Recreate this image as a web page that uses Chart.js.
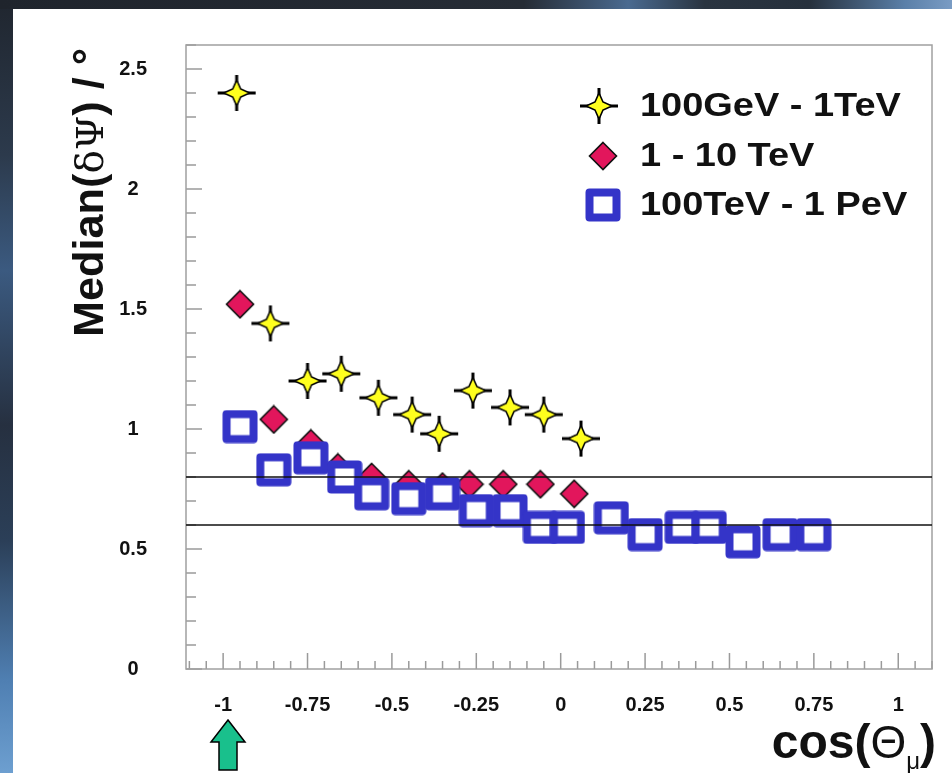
<!DOCTYPE html>
<html>
<head>
<meta charset="utf-8">
<script src="https://cdn.jsdelivr.net/npm/chart.js@4.4.1/dist/chart.umd.min.js"></script>
<style>
  html, body { margin: 0; padding: 0; width: 952px; height: 773px; overflow: hidden; }
  body { background: linear-gradient(180deg, #20262f 0%, #2c3a4c 20%, #3b5a80 35%, #263040 55%, #2b3f58 70%, #4f7fb2 88%, #6d9fd0 100%); }
  #topband { position: absolute; left: 0; top: 0; width: 952px; height: 9px;
    background: linear-gradient(90deg, #1f242c 0%, #262c35 55%, #4a6a90 66%, #2a3440 74%, #26303c 85%, #5a7fa8 95%, #7a9cc4 100%); }
  #panel { position: absolute; left: 13px; top: 9px; right: 0; bottom: 0; background: #fff; }
  #plot { position: absolute; left: 0; top: 0; }
</style>
</head>
<body>
<div id="topband"></div>
<div id="panel"></div>
<canvas id="plot" width="952" height="773"></canvas>
<script>
/* ---------- data ---------- */
const xTickValues = [-1, -0.75, -0.5, -0.25, 0, 0.25, 0.5, 0.75, 1];
const yTickValues = [0, 0.5, 1, 1.5, 2, 2.5];
const seriesNames = ["100GeV - 1TeV", "1 - 10 TeV", "100TeV - 1 PeV"];

// 100GeV - 1TeV (yellow stars)
const lowX = [-0.96, -0.86, -0.75, -0.65, -0.54, -0.44, -0.36, -0.26, -0.15, -0.05, 0.06];
const lowY = [2.40, 1.44, 1.20, 1.23, 1.13, 1.06, 0.98, 1.16, 1.09, 1.06, 0.96];

// 1 - 10 TeV (red diamonds)
const midX = [-0.95, -0.85, -0.74, -0.66, -0.56, -0.45, -0.35, -0.27, -0.17, -0.06, 0.04];
const midY = [1.52, 1.04, 0.94, 0.84, 0.80, 0.77, 0.76, 0.77, 0.77, 0.77, 0.73];

// 100TeV - 1 PeV (blue open squares)
const highX = [-0.95, -0.85, -0.74, -0.64, -0.56, -0.45, -0.35, -0.25, -0.15, -0.06, 0.02, 0.15, 0.25, 0.36, 0.44, 0.54, 0.65, 0.75];
const highY = [1.01, 0.83, 0.88, 0.80, 0.73, 0.71, 0.73, 0.66, 0.66, 0.59, 0.59, 0.63, 0.56, 0.59, 0.59, 0.53, 0.56, 0.56];

// horizontal reference levels
const refLevels = [0.8, 0.6];

const X_MIN = -1.11, X_MAX = 1.1;
const Y_MIN = 0, Y_MAX = 2.6;

const SANS = '"Liberation Sans", Arial, sans-serif';

/* ---------- marker images ---------- */
function starMarker() {
  const c = document.createElement("canvas");
  c.width = 40; c.height = 38;
  const g = c.getContext("2d");
  const mx = 20, my = 19;
  g.strokeStyle = "#000";
  g.lineWidth = 3;
  g.beginPath();
  g.moveTo(mx - 19, my); g.lineTo(mx + 19, my);
  g.moveTo(mx, my - 18); g.lineTo(mx, my + 18);
  g.stroke();
  const o = 13, i = 4;
  g.beginPath();
  g.moveTo(mx, my - o); g.lineTo(mx + i, my - i); g.lineTo(mx + o, my); g.lineTo(mx + i, my + i);
  g.lineTo(mx, my + o); g.lineTo(mx - i, my + i); g.lineTo(mx - o, my); g.lineTo(mx - i, my - i);
  g.closePath();
  g.fillStyle = "#ffff1e";
  g.fill();
  g.lineWidth = 1.6;
  g.stroke();
  return c;
}

function diamondMarker() {
  const c = document.createElement("canvas");
  c.width = 30; c.height = 30;
  const g = c.getContext("2d");
  g.beginPath();
  g.moveTo(15, 1.5); g.lineTo(28.5, 15); g.lineTo(15, 28.5); g.lineTo(1.5, 15);
  g.closePath();
  g.fillStyle = "#e2165c";
  g.fill();
  g.strokeStyle = "#111";
  g.lineWidth = 1.6;
  g.stroke();
  return c;
}

function squareMarker() {
  const c = document.createElement("canvas");
  c.width = 36; c.height = 34;
  const g = c.getContext("2d");
  g.fillStyle = "#fff";
  g.fillRect(4, 4, 28, 26);
  g.strokeStyle = "#3434c8";
  g.lineWidth = 8;
  g.lineJoin = "round";
  g.strokeRect(4.5, 4.5, 27, 25);
  return c;
}

const starImg = starMarker();
const diamondImg = diamondMarker();
const squareImg = squareMarker();

const toPoints = (xs, ys) => xs.map((x, k) => ({ x: x, y: ys[k] }));

// keep the plot frame where the layout puts it
function noEdgePadding(s) {
  s.paddingTop = 0; s.paddingBottom = 0;
  s.paddingLeft = 0; s.paddingRight = 0;
}

/* ---------- frame, ticks, titles, legend, arrow ---------- */
const decor = {
  id: "decor",
  beforeDatasetsDraw(chart) {
    const { ctx, chartArea: a, scales: { x, y } } = chart;
    ctx.save();
    ctx.strokeStyle = "#9a9a9a";
    ctx.lineWidth = 1.5;
    // inward ticks, x axis: every 0.05, long at 0.25
    for (let k = -22; k <= 22; k++) {
      const v = k * 0.05;
      if (v < X_MIN || v > X_MAX) continue;
      const px = x.getPixelForValue(v);
      const len = (k % 5 === 0) ? 16 : 8;
      ctx.beginPath();
      ctx.moveTo(px, a.bottom);
      ctx.lineTo(px, a.bottom - len);
      ctx.stroke();
    }
    // inward ticks, y axis: every 0.1, long at 0.5
    for (let k = 0; k <= 26; k++) {
      const py = y.getPixelForValue(k * 0.1);
      const len = (k % 5 === 0) ? 16 : 10;
      ctx.beginPath();
      ctx.moveTo(a.left, py);
      ctx.lineTo(a.left + len, py);
      ctx.stroke();
    }
    ctx.strokeStyle = "#a0a0a0";
    ctx.strokeRect(a.left, a.top, a.right - a.left, a.bottom - a.top);
    ctx.restore();
  },
  afterDraw(chart) {
    const { ctx } = chart;
    ctx.save();
    ctx.fillStyle = "#111";

    // y title, rotated, reads bottom to top
    const ySegs = [
      { t: "Median(", f: "bold 42px " + SANS },
      { t: "δΨ", f: '38px "DejaVu Serif", serif' },
      { t: ") / °", f: "bold 42px " + SANS }
    ];
    let total = 0;
    ySegs.forEach(s => { ctx.font = s.f; total += ctx.measureText(s.t).width; });
    ctx.translate(103, 337);
    ctx.rotate(-Math.PI / 2);
    ctx.scale(289 / total, 1);
    ctx.textBaseline = "alphabetic";
    ctx.textAlign = "left";
    let pos = 0;
    ySegs.forEach(s => { ctx.font = s.f; ctx.fillText(s.t, pos, 0); pos += ctx.measureText(s.t).width; });
    ctx.restore();

    // x title, right aligned
    ctx.save();
    ctx.fillStyle = "#111";
    ctx.textBaseline = "alphabetic";
    const xSegs = [
      { t: "cos(", f: "bold 48px " + SANS, dy: 0 },
      { t: "Θ", f: "46px " + SANS, dy: 0 },
      { t: "μ", f: "24px " + SANS, dy: 11 },
      { t: ")", f: "bold 48px " + SANS, dy: 0 }
    ];
    let w = 0;
    xSegs.forEach(s => { ctx.font = s.f; w += ctx.measureText(s.t).width; });
    let px = 936 - w;
    xSegs.forEach(s => { ctx.font = s.f; ctx.fillText(s.t, px, 758 + s.dy); px += ctx.measureText(s.t).width; });

    // legend
    const rows = [
      { img: starImg, cx: 599, cy: 106, label: seriesNames[0] },
      { img: diamondImg, cx: 603, cy: 156, label: seriesNames[1] },
      { img: squareImg, cx: 603, cy: 205, label: seriesNames[2] }
    ];
    ctx.font = "bold 33px " + SANS;
    ctx.textBaseline = "middle";
    rows.forEach(r => {
      ctx.drawImage(r.img, r.cx - r.img.width / 2, r.cy - r.img.height / 2);
      ctx.save();
      ctx.translate(640, r.cy + 1);
      ctx.scale(1.15, 1);
      ctx.fillText(r.label, 0, 0);
      ctx.restore();
    });

    // green arrow under -1
    ctx.beginPath();
    ctx.moveTo(228, 720);
    ctx.lineTo(245, 742);
    ctx.lineTo(237, 742);
    ctx.lineTo(237, 770);
    ctx.lineTo(219, 770);
    ctx.lineTo(219, 742);
    ctx.lineTo(211, 742);
    ctx.closePath();
    ctx.fillStyle = "#19c08c";
    ctx.fill();
    ctx.strokeStyle = "#000";
    ctx.lineWidth = 1.5;
    ctx.stroke();
    ctx.restore();
  }
};

const datasets = [
  {
    label: seriesNames[0],
    data: toPoints(lowX, lowY),
    pointStyle: starImg,
    order: 0
  },
  {
    label: seriesNames[2],
    data: toPoints(highX, highY),
    pointStyle: squareImg,
    order: 1
  },
  {
    label: seriesNames[1],
    data: toPoints(midX, midY),
    pointStyle: diamondImg,
    order: 2
  }
];

refLevels.forEach(v => {
  datasets.push({
    label: "level " + v,
    data: [{ x: X_MIN, y: v }, { x: X_MAX, y: v }],
    showLine: true,
    borderColor: "#111",
    borderWidth: 1.5,
    pointRadius: 0,
    order: -1
  });
});

new Chart(document.getElementById("plot"), {
  type: "scatter",
  data: { datasets: datasets },
  options: {
    responsive: false,
    animation: false,
    events: [],
    layout: { padding: { left: 0, right: 20, top: 45, bottom: 0 } },
    plugins: {
      legend: { display: false },
      tooltip: { enabled: false }
    },
    scales: {
      x: {
        type: "linear",
        min: X_MIN,
        max: X_MAX,
        grid: { display: false, drawTicks: false },
        border: { display: false },
        afterBuildTicks: s => { s.ticks = xTickValues.map(v => ({ value: v })); },
        afterFit: s => { s.height = 104; noEdgePadding(s); },
        ticks: {
          color: "#111",
          padding: 24,
          maxRotation: 0,
          autoSkip: false,
          font: { family: SANS, size: 20, weight: "bold" },
          callback: v => String(v)
        }
      },
      y: {
        type: "linear",
        min: Y_MIN,
        max: Y_MAX,
        grid: { display: false, drawTicks: false },
        border: { display: false },
        afterBuildTicks: s => { s.ticks = yTickValues.map(v => ({ value: v })); },
        afterFit: s => { s.width = 186; noEdgePadding(s); },
        ticks: {
          color: "#111",
          padding: 39,
          crossAlign: "center",
          font: { family: SANS, size: 20, weight: "bold" },
          callback: v => String(v)
        }
      }
    }
  },
  plugins: [decor]
});
</script>
</body>
</html>
